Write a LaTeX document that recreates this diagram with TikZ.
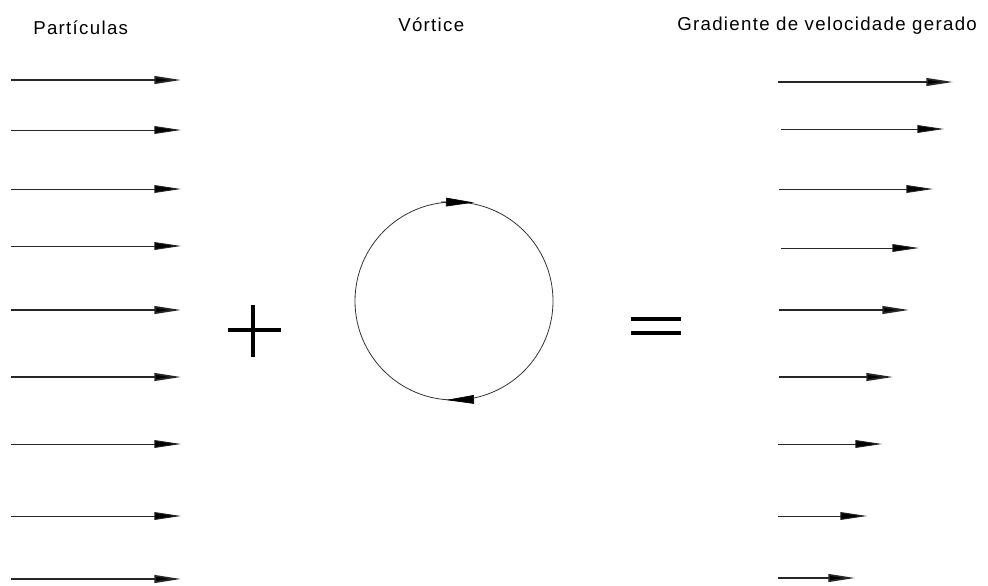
\documentclass[tikz,border=0pt]{standalone}
\usepackage{fontspec}
\setmainfont{Liberation Sans}
\newfontfamily\lblfont[LetterSpace=7]{Liberation Sans}
\usetikzlibrary{arrows.meta}
\begin{document}
\begin{tikzpicture}[x=0.75pt,y=-0.75pt,
  flow/.style={line width=0.7pt, draw=black!85, -{Triangle[length=20pt,width=5.8pt,fill=black]}},
  flowthick/.style={flow, line width=1.3pt},
  circarrow/.style={line width=0.5pt, -{Triangle[length=21pt,width=6.5pt]}},
  vline/.style={line width=0.6pt, draw=black!80},
  lbl/.style={font=\lblfont\fontsize{14}{16}\selectfont, anchor=base west, inner sep=0pt},
  sym/.style={line width=2.3pt}]
\useasboundingbox (0,0) rectangle (988,585);

% titles
\node[lbl] (t1) at (33,35) {Partículas};
\node[lbl] (t2) at (398,32) {Vórtice};
\node[lbl] (t3) at (677,31) {Gradiente de velocidade gerado};

% left uniform flow
\foreach \i/\y/\s in {1/80/flowthick,2/130/flow,3/189/flow,4/246/flow,5/310/flowthick,6/377/flowthick,7/444/flow,8/516/flow,9/579/flowthick} {
  \coordinate (ls\i) at (11,\y);
  \coordinate (le\i) at (181,\y);
  \draw[\s] (ls\i) -- (le\i);
}

% plus sign
\coordinate (pl) at (228,330); \coordinate (pr) at (281,330);
\coordinate (pt) at (253,305); \coordinate (pb) at (253,357);
\draw[sym] (pl) -- (pr);
\draw[sym] (pt) -- (pb);

% vortex
\coordinate (vc) at (454,301);
\draw[vline] (vc) circle[radius=99];
\coordinate (va) at (441,202); \coordinate (vb) at (474,202.5);
\draw[circarrow] (va) -- (vb);
\coordinate (vd) at (470,399.5); \coordinate (ve) at (446,400);
\draw[circarrow] (vd) -- (ve);

% equals sign
\coordinate (e1a) at (631,319); \coordinate (e1b) at (681,319);
\coordinate (e2a) at (631,333); \coordinate (e2b) at (681,333);
\draw[sym] (e1a) -- (e1b);
\draw[sym] (e2a) -- (e2b);

% right gradient flow
\foreach \i/\y/\a/\b/\s in {1/82/778/953/flowthick,2/129/781/944/flow,3/189/779/933/flow,4/248/781/919/flow,5/310/779/909/flowthick,6/377/779/893/flowthick,7/444/778/882/flow,8/516/778/867/flow,9/578/778/855/flowthick} {
  \coordinate (rs\i) at (\a,\y);
  \coordinate (re\i) at (\b,\y);
  \draw[\s] (rs\i) -- (re\i);
}
\end{tikzpicture}
\end{document}
